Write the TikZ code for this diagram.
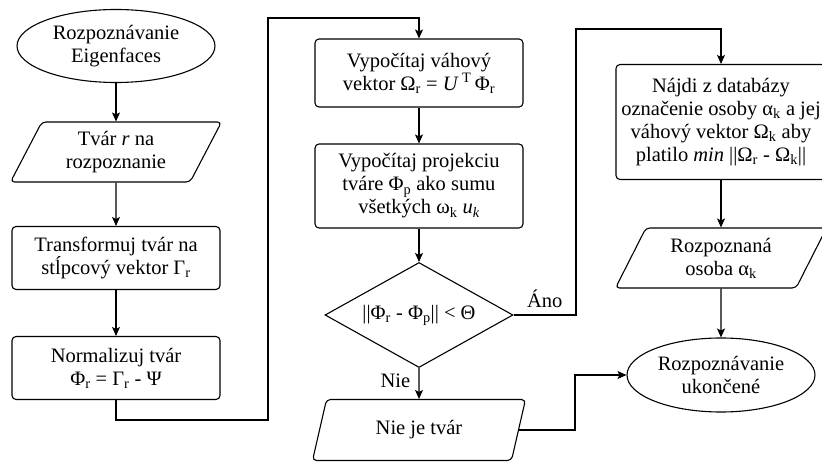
\documentclass[tikz,border=0pt]{standalone}
\usepackage{fontspec}
\setmainfont{Liberation Serif}
\usetikzlibrary{shapes.geometric, arrows.meta}

\begin{document}
\begin{tikzpicture}[x=1pt, y=-1pt,
        every node/.style={font=\fontsize{20.5}{23}\selectfont, align=center},
        process/.style={draw, rounded corners=4pt, line width=1.1pt, minimum width=208pt, inner sep=0pt},
        io/.style={draw, trapezium, trapezium left angle=53, trapezium right angle=127,
            trapezium stretches body, rounded corners=4pt, line width=1.1pt,
            minimum width=211pt, minimum height=60pt, inner sep=0pt},
        term/.style={draw, ellipse, line width=1.1pt, inner sep=0pt},
        decision/.style={draw, diamond, aspect=1.8, line width=1.1pt,
            minimum width=188pt, minimum height=105pt, inner sep=0pt},
        flow/.style={line width=1.1pt, -{Stealth[length=9pt, width=8pt, inset=2pt]}}]
        \useasboundingbox (0,0) rectangle (822,462);

        % left column
        \node[term, minimum width=198pt, minimum height=73pt] (start) at (116,46) {Rozpoznávanie\\Eigenfaces};
        \node[io] (face) at (116,152) {Tvár \textit{r} na\\rozpoznanie};
        \node[process, minimum height=63pt] (column) at (116,258) {Transformuj tvár na\\stĺpcový vektor Γ\textsubscript{r}};
        \node[process, minimum height=63pt] (norm) at (116,368) {Normalizuj tvár\\Φ\textsubscript{r} = Γ\textsubscript{r} - Ψ};

        % middle column
        \node[process, minimum height=68pt] (weight) at (419,73) {Vypočítaj váhový\\vektor Ω\textsubscript{r} = \textit{U}\,\textsuperscript{T}\,Φ\textsubscript{r}};
        \node[process, minimum height=84pt] (proj) at (419,186) {Vypočítaj projekciu\\tváre Φ\textsubscript{p} ako sumu\\všetkých ω\textsubscript{k} \textit{u\textsubscript{k}}};
        \node[decision] (test) at (419,315) {||Φ\textsubscript{r} - Φ\textsubscript{p}|| < Θ};
        \node[io, minimum width=213pt, minimum height=61pt] (noface) at (419,430) {Nie je tvár};

        % right column
        \node[process, minimum width=210pt, minimum height=115pt] (find) at (721,122) {Nájdi z databázy\\označenie osoby α\textsubscript{k} a jej\\váhový vektor Ω\textsubscript{k} aby\\platilo \textit{min} ||Ω\textsubscript{r} - Ω\textsubscript{k}||};
        \node[io] (person) at (721,258) {Rozpoznaná\\osoba α\textsubscript{k}};
        \node[term, minimum width=188pt, minimum height=74pt] (stop) at (721,375) {Rozpoznávanie\\ukončené};

        % bends of the long connectors
        \coordinate (leftbend) at (268,420);
        \coordinate (yesbend) at (576,29);
        \coordinate (nobend) at (575,375);

        % connectors
        \draw[flow] (start) -- (face);
        \draw[flow] (face) -- (column);
        \draw[flow] (column) -- (norm);
        \draw[flow] (norm.south) |- (leftbend) -- (268,18) -| (weight.north);
        \draw[flow] (weight) -- (proj);
        \draw[flow] (proj) -- (test);
        \draw[flow] (test.east) -- node[above=3pt] {Áno} (test.east -| yesbend) -- (yesbend) -| (find.north);
        \draw[flow] (test.south) -- node[left=5pt, pos=0.4] {Nie} (noface.north);
        \draw[flow] (noface.east) -| (nobend) -- (stop.west);
        \draw[flow] (find) -- (person);
        \draw[flow] (person) -- (stop);
    \end{tikzpicture}
\end{document}
